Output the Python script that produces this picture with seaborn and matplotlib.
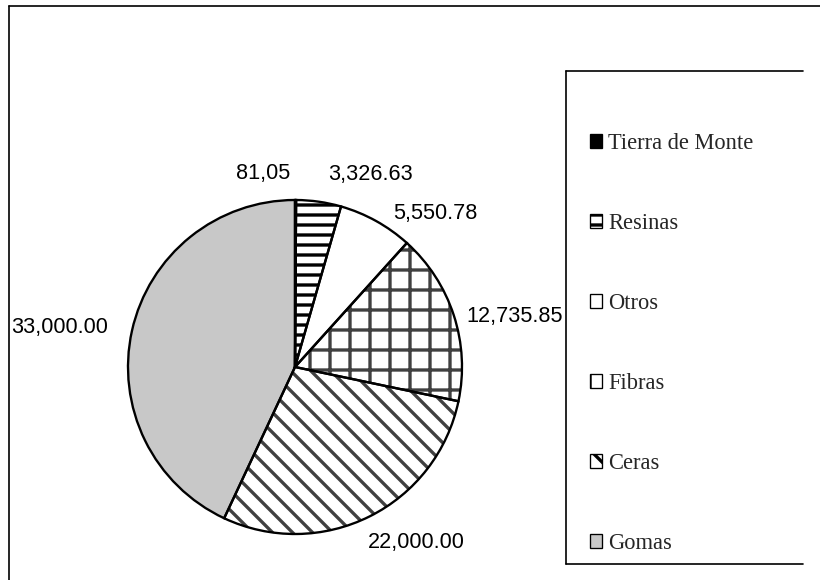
import numpy as np
import matplotlib
matplotlib.use("Agg")
import matplotlib.pyplot as plt
from matplotlib.lines import Line2D
from matplotlib.patches import Patch
import seaborn as sns

# Producción por tipo de producto
categorias = ["Tierra de Monte", "Resinas", "Otros", "Fibras", "Ceras", "Gomas"]
valores = [81.05, 3326.63, 5550.78, 12735.85, 22000.00, 33000.00]
etiquetas = ["81,05", "3,326.63", "5,550.78", "12,735.85", "22,000.00", "33,000.00"]

sns.set_theme(style="white")
plt.rcParams["hatch.linewidth"] = 2.0

rellenos = ["black", "white", "white", "white", "white", "#c8c8c8"]
tramas = [None, "--", None, "+", "\\\\", None]
color_trama = ["black", "black", "#404040", "#404040", "#404040", "#404040"]

W, H, DPI = 820, 580, 120
fig = plt.figure(figsize=(W / DPI, H / DPI), dpi=DPI)
fig.patch.set_facecolor("white")

# pie axes: centre and radius in pixels
cx, cy, R = 295, 367, 167
half = 1.5
side = 2 * half * R
ax = fig.add_axes([(cx - side / 2) / W, ((H - cy) - side / 2) / H, side / W, side / H])

# filled and hatched wedges
cunas, _ = ax.pie(valores, startangle=90, counterclock=False, radius=1,
                  colors=rellenos, wedgeprops=dict(linewidth=0))
for c, t, hc in zip(cunas, tramas, color_trama):
    c.set_edgecolor(hc)
    if t:
        c.set_hatch(t)
# wedge outlines
ax.pie(valores, startangle=90, counterclock=False, radius=1,
       colors=["none"] * len(valores),
       wedgeprops=dict(linewidth=1.4, edgecolor="black", fill=False))
for c in cunas:
    c.set_linewidth(0)
ax.set_xlim(-half, half)
ax.set_ylim(-half, half)
ax.set_aspect("equal")
ax.axis("off")

# value labels, anchored on the rim at each wedge's mid angle
desplaz = [(-5, 27), (9, 27), (17, 7), (13, -1), (-2, -26), (-24, 3)]
alin = ["right", "left", "left", "left", "left", "right"]
total = sum(valores)
acum = 0.0
for v, lab, off, a in zip(valores, etiquetas, desplaz, alin):
    mid = 90 - 360 * (acum + v / 2) / total
    acum += v
    th = np.deg2rad(mid)
    bbox = dict(facecolor="white", edgecolor="none", pad=0.5) if lab == "5,550.78" else None
    ax.annotate(lab, (np.cos(th), np.sin(th)), xytext=off, textcoords="offset pixels",
                ha=a, va="center", fontsize=13, family="Liberation Sans",
                color="black", bbox=bbox)

# legend
manejadores = [Patch(facecolor=f, edgecolor=hc, hatch=t, linewidth=0.8)
               for f, t, hc in zip(rellenos, tramas, color_trama)]
leg = fig.legend(manejadores, categorias, loc="upper left",
                 bbox_to_anchor=(590 / W, 1 - 133 / H), frameon=False,
                 prop=dict(family="Liberation Serif", size=13.5),
                 handlelength=0.55, handleheight=0.55, handletextpad=0.25,
                 labelspacing=2.62, borderaxespad=0, borderpad=0)
for h in leg.legend_handles:
    h.set_edgecolor("black")

def px_line(x0, y0, x1, y1, lw=1.0, color="black"):
    fig.add_artist(Line2D([x0 / W, x1 / W], [1 - y0 / H, 1 - y1 / H],
                          transform=fig.transFigure, color=color, linewidth=lw))

# legend frame (open on the right)
px_line(566, 71, 803, 71)
px_line(566, 71, 566, 564)
px_line(566, 564, 803, 564)
# outer chart border
px_line(9, 6, 820, 6)
px_line(9, 6, 9, 580)

fig.savefig("out.png", dpi=DPI, facecolor="white")
